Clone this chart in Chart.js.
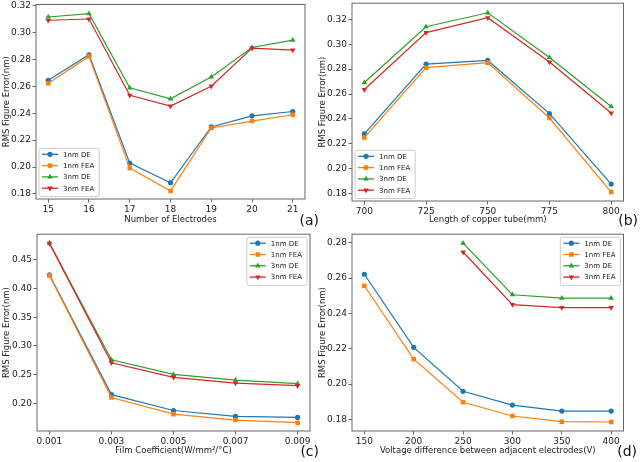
<!DOCTYPE html>
<html><head><meta charset="utf-8">
<script src="https://cdn.jsdelivr.net/npm/chart.js@4/dist/chart.umd.min.js"></script>
<style>
html,body{margin:0;padding:0;background:#fff;}
#wrap{position:relative;width:640px;height:462px;overflow:hidden;}
canvas{position:absolute;}
</style></head><body>
<div id="wrap">
<canvas id="ca" style="left:0px;top:0px" width="320" height="231"></canvas>
<canvas id="cb" style="left:316px;top:0px" width="324" height="231"></canvas>
<canvas id="cc" style="left:0px;top:231px" width="320" height="231"></canvas>
<canvas id="cd" style="left:316px;top:231px" width="324" height="231"></canvas>
</div>
<script>
// ---------- DATA ----------
const seriesNames = ['1nm DE', '1nm FEA', '3nm DE', '3nm FEA'];

// (a) Number of Electrodes
const aX = [15, 16, 17, 18, 19, 20, 21];
const a1nmDE  = [0.2645, 0.2835, 0.2029, 0.1883, 0.2298, 0.2381, 0.2413];
const a1nmFEA = [0.2623, 0.2823, 0.1992, 0.1822, 0.2290, 0.2342, 0.2389];
const a3nmDE  = [0.3116, 0.3141, 0.2589, 0.2507, 0.2670, 0.2889, 0.2944];
const a3nmFEA = [0.3092, 0.3101, 0.2534, 0.2453, 0.2601, 0.2884, 0.2870];
const aYTicks = [0.18, 0.20, 0.22, 0.24, 0.26, 0.28, 0.30, 0.32];

// (b) Length of copper tube
const bX = [700, 725, 750, 775, 800];
const b1nmDE  = [0.2280, 0.2841, 0.2870, 0.2442, 0.1876];
const b1nmFEA = [0.2250, 0.2812, 0.2852, 0.2407, 0.1812];
const b3nmDE  = [0.2692, 0.3141, 0.3253, 0.2894, 0.2500];
const b3nmFEA = [0.2636, 0.3094, 0.3213, 0.2857, 0.2447];
const bYTicks = [0.18, 0.20, 0.22, 0.24, 0.26, 0.28, 0.30, 0.32];

// (c) Film coefficient
const cX = [0.001, 0.003, 0.005, 0.007, 0.009];
const c1nmDE  = [0.4236, 0.2155, 0.1879, 0.1776, 0.1759];
const c1nmFEA = [0.4224, 0.2103, 0.1816, 0.1713, 0.1667];
const c3nmDE  = [0.4787, 0.2759, 0.2506, 0.2408, 0.2345];
const c3nmFEA = [0.4782, 0.2707, 0.2454, 0.2356, 0.2310];
const cYTicks = [0.20, 0.25, 0.30, 0.35, 0.40, 0.45];

// (d) Voltage difference
const dX = [150, 200, 250, 300, 350, 400];
const d1nmDE  = [0.2622, 0.2208, 0.1959, 0.1881, 0.1847, 0.1847];
const d1nmFEA = [0.2557, 0.2141, 0.1897, 0.1819, 0.1787, 0.1785];
const d3nmDE  = [null, null, 0.2798, 0.2506, 0.2487, 0.2487];
const d3nmFEA = [null, null, 0.2748, 0.2450, 0.2433, 0.2433];
const dYTicks = [0.18, 0.20, 0.22, 0.24, 0.26, 0.28];

// ---------- STYLE ----------
const colors = ['#1f77b4', '#ff7f0e', '#2ca02c', '#d62728'];
const markers = [
  {style: 'circle', rot: 0, r: 2.6},
  {style: 'rect', rot: 0, r: 3.2},
  {style: 'triangle', rot: 0, r: 3.2},
  {style: 'triangle', rot: 180, r: 3.2}
];
const FONT = 'DejaVu Sans';
Chart.defaults.font.family = FONT;
Chart.defaults.color = '#222';

const panels = [
  {id: 'ca', w: 320, x: aX, ys: [a1nmDE, a1nmFEA, a3nmDE, a3nmFEA], yTicks: aYTicks,
   xMin: 14.7, xMax: 21.3, yMin: 0.1762, yMax: 0.3209,
   xTitle: 'Number of Electrodes', xFmt: v => String(Math.round(v)), yFmt: v => v.toFixed(2),
   area: {left: 36, top: 4.5, right: 305, bottom: 199}, legend: 'bl', label: '(a)', labelX: 319},
  {id: 'cb', w: 324, x: bX, ys: [b1nmDE, b1nmFEA, b3nmDE, b3nmFEA], yTicks: bYTicks,
   xMin: 695, xMax: 805, yMin: 0.174, yMax: 0.333,
   xTitle: 'Length of copper tube(mm)', xFmt: v => String(Math.round(v)), yFmt: v => v.toFixed(2),
   area: {left: 36, top: 1.5, right: 307.5, bottom: 201}, legend: 'bl', label: '(b)', labelX: 322},
  {id: 'cc', w: 320, x: cX, ys: [c1nmDE, c1nmFEA, c3nmDE, c3nmFEA], yTicks: cYTicks,
   xMin: 0.0006, xMax: 0.0094, yMin: 0.1523, yMax: 0.4941,
   xTitle: 'Film Coefficient(W/mm\u00b2/\u00b0C)', xFmt: v => v.toFixed(3), yFmt: v => v.toFixed(2),
   area: {left: 37, top: 1.7, right: 310, bottom: 200}, legend: 'tr', label: '(c)', labelX: 319},
  {id: 'cd', w: 324, x: dX, ys: [d1nmDE, d1nmFEA, d3nmDE, d3nmFEA], yTicks: dYTicks,
   xMin: 137.5, xMax: 412.5, yMin: 0.1734, yMax: 0.2849,
   xTitle: 'Voltage difference between adjacent electrodes(V)', xFmt: v => String(Math.round(v)), yFmt: v => v.toFixed(2),
   area: {left: 36, top: 2, right: 307.5, bottom: 200}, legend: 'tr', label: '(d)', labelX: 321}
];

function drawMarker(ctx, m, color, x, y) {
  ctx.save();
  ctx.fillStyle = color; ctx.strokeStyle = color; ctx.lineWidth = 1;
  ctx.beginPath();
  if (m.style === 'circle') {
    ctx.arc(x, y, m.r, 0, Math.PI * 2);
  } else if (m.style === 'rect') {
    const s = m.r * Math.SQRT1_2;
    ctx.rect(x - s, y - s, 2 * s, 2 * s);
  } else {
    const r = m.r, dir = m.rot ? -1 : 1;
    ctx.moveTo(x, y - dir * r);
    ctx.lineTo(x - r * 0.866, y + dir * r * 0.5);
    ctx.lineTo(x + r * 0.866, y + dir * r * 0.5);
    ctx.closePath();
  }
  ctx.fill();
  ctx.restore();
}

const decor = {
  id: 'decor',
  afterDatasetsDraw(chart, args, opts) {
    const ctx = chart.ctx, a = chart.chartArea, p = opts.panel;
    // frame
    ctx.save();
    ctx.strokeStyle = '#666'; ctx.lineWidth = 1;
    ctx.strokeRect(a.left, a.top, a.right - a.left, a.bottom - a.top);
    ctx.restore();
    // legend
    ctx.save();
    ctx.font = '7px "' + FONT + '"';
    let tw = 0;
    seriesNames.forEach(n => { tw = Math.max(tw, ctx.measureText(n).width); });
    const rowH = 11.3, handle = 16, gap = 5, padL = 3, padR = 5;
    const bw = padL + handle + gap + tw + padR, bh = rowH * 4 + 3;
    let bx, by;
    if (p.legend === 'bl') { bx = a.left + 3; by = a.bottom - 2.5 - bh; }
    else { bx = a.right - 3 - bw; by = a.top + 3; }
    ctx.fillStyle = 'rgba(255,255,255,0.85)';
    ctx.strokeStyle = '#cccccc'; ctx.lineWidth = 1;
    ctx.beginPath();
    if (ctx.roundRect) ctx.roundRect(bx, by, bw, bh, 2); else ctx.rect(bx, by, bw, bh);
    ctx.fill(); ctx.stroke();
    seriesNames.forEach((n, i) => {
      const cy = by + 6 + i * rowH;
      const lx = bx + padL;
      ctx.strokeStyle = colors[i]; ctx.lineWidth = 1.3;
      ctx.beginPath(); ctx.moveTo(lx, cy); ctx.lineTo(lx + handle, cy); ctx.stroke();
      drawMarker(ctx, markers[i], colors[i], lx + handle / 2, cy);
      ctx.fillStyle = '#222'; ctx.textBaseline = 'middle'; ctx.textAlign = 'left';
      ctx.fillText(n, lx + handle + gap, cy + 0.5);
    });
    ctx.restore();
    // panel label
    ctx.save();
    ctx.font = '14px "' + FONT + '"';
    ctx.fillStyle = '#111'; ctx.textAlign = 'right'; ctx.textBaseline = 'middle';
    ctx.fillText(p.label, p.labelX, 221);
    ctx.restore();
  }
};

panels.forEach(p => {
  const datasets = seriesNames.map((name, i) => ({
    label: name,
    data: p.x.map((xv, k) => ({x: xv, y: p.ys[i][k]})),
    borderColor: colors[i],
    backgroundColor: colors[i],
    borderWidth: 1.2,
    pointStyle: markers[i].style,
    pointRotation: markers[i].rot,
    pointRadius: markers[i].r,
    pointBorderWidth: 0,
    pointHoverRadius: markers[i].r,
    tension: 0,
    spanGaps: false,
    order: 4 - i
  }));
  new Chart(document.getElementById(p.id), {
    type: 'line',
    data: {datasets},
    options: {
      responsive: false, animation: false, devicePixelRatio: 1,
      layout: {padding: {left: 0, top: p.area.top, right: p.w - p.area.right, bottom: 0}},
      plugins: {legend: {display: false}, tooltip: {enabled: false}, decor: {panel: p}},
      scales: {
        x: {
          type: 'linear', min: p.xMin, max: p.xMax,
          afterBuildTicks: s => { s.ticks = p.x.map(v => ({value: v})); },
          afterFit: s => { s.height = 231 - p.area.bottom; s.paddingLeft = 0; s.paddingRight = 0; },
          grid: {drawOnChartArea: false, drawTicks: true, tickLength: 3.5, color: '#444', lineWidth: 0.8},
          border: {display: false},
          ticks: {font: {size: 9}, padding: 2, maxRotation: 0, autoSkip: false, color: '#222',
                  callback: v => p.xFmt(v)},
          title: {display: true, text: p.xTitle, font: {size: 8.5}, color: '#222', padding: {top: 0, bottom: 5.8}}
        },
        y: {
          type: 'linear', min: p.yMin, max: p.yMax,
          afterBuildTicks: s => { s.ticks = p.yTicks.map(v => ({value: v})); },
          afterFit: s => { s.width = p.area.left; s.paddingTop = 0; s.paddingBottom = 0; },
          grid: {drawOnChartArea: false, drawTicks: true, tickLength: 3.5, color: '#444', lineWidth: 0.8},
          border: {display: false},
          ticks: {font: {size: 9}, padding: 1.5, color: '#222', callback: v => p.yFmt(v)},
          title: {display: true, text: 'RMS Figure Error(nm)', font: {size: 8.5}, color: '#222', padding: {top: 1.4, bottom: 0}}
        }
      }
    },
    plugins: [decor]
  });
});
</script>
</body></html>
